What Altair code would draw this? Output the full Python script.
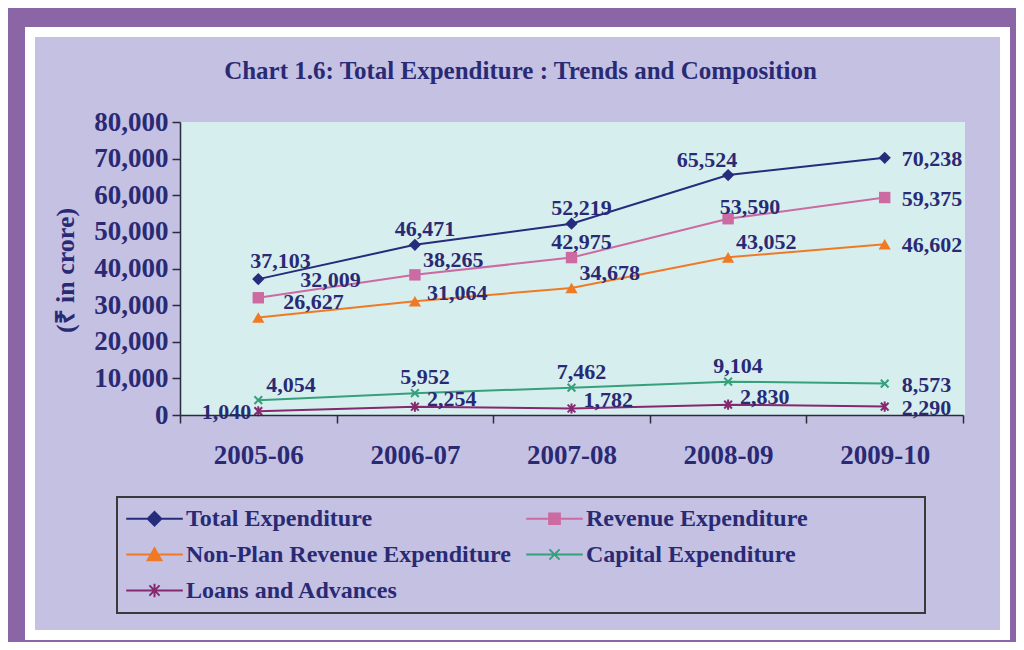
import altair as alt
import pandas as pd

# ---------------- data ----------------
years = ["2005-06", "2006-07", "2007-08", "2008-09", "2009-10"]
series = [
    "Total Expenditure",
    "Revenue Expenditure",
    "Non-Plan Revenue Expenditure",
    "Capital Expenditure",
    "Loans and Advances",
]
total_exp = [37103, 46471, 52219, 65524, 70238]
revenue_exp = [32009, 38265, 42975, 53590, 59375]
nonplan_exp = [26627, 31064, 34678, 43052, 46602]
capital_exp = [4054, 5952, 7462, 9104, 8573]
loans_adv = [1040, 2254, 1782, 2830, 2290]
y_ticks = [0, 10000, 20000, 30000, 40000, 50000, 60000, 70000, 80000]

# ---------------- styles ----------------
colors = ["#262c7c", "#cc6aa2", "#f07a24", "#35a07a", "#86286f"]
navy = "#2a2a74"
font = "Liberation Serif"

# label placement codes per point (style only)
placement = {
    "E": (17, 1, "left"),
    "W": (-7, 1, "right"),
    "NE": (8, -15, "left"),
    "ENE": (12, -8, "left"),
    "N": (10, -16, "center"),
    "NW": (-21, -15, "center"),
    "NNW": (-8, -18, "left"),
    "FAR": (42, -18, "left"),
    "NE2": (25, -15, "left"),
    "NNE": (22, -12, "center"),
}
label_codes = [
    ["NNW", "N", "N", "NW", "E"],
    ["FAR", "NE", "N", "NNE", "E"],
    ["NE2", "ENE", "NE", "NE", "E"],
    ["NE", "N", "N", "N", "E"],
    ["W", "ENE", "ENE", "ENE", "E"],
]

values = [total_exp, revenue_exp, nonplan_exp, capital_exp, loans_adv]
rows = []
for s, vals, codes in zip(series, values, label_codes):
    for yr, v, c in zip(years, vals, codes):
        rows.append({"series": s, "year": yr, "value": v,
                     "label": f"{v:,}", "pos": c})
df = pd.DataFrame(rows)

W, H = 783, 293

# marker shapes for the data points: (shape, filled, size)
markers = [
    ("diamond", True, 150),
    ("square", True, 130),
    ("triangle-up", True, 150),
    ("M-1,-1L1,1M-1,1L1,-1", False, 60),
    ("M-1,-1L1,1M-1,1L1,-1M0,-1.3L0,1.3", False, 60),
]
# legend symbols: line segment + marker (unit = half of sqrt(symbolSize))
legend_paths = [
    "M-2,0L2,0M0,-0.48L0.48,0L0,0.48L-0.48,0Z",
    "M-2,0L2,0M-0.38,-0.38L0.38,-0.38L0.38,0.38L-0.38,0.38Z",
    "M-2,0L2,0M0,-0.44L0.48,0.4L-0.48,0.4Z",
    "M-2,0L2,0M-0.36,-0.36L0.36,0.36M-0.36,0.36L0.36,-0.36",
    "M-2,0L2,0M-0.36,-0.36L0.36,0.36M-0.36,0.36L0.36,-0.36M0,-0.48L0,0.48",
]

axis_common = dict(
    tickSize=8, tickWidth=1.5, tickColor="#2b2b3b", domainColor="#2b2b3b",
    domainWidth=1.5, labelFont=font, labelFontWeight="bold",
    labelColor=navy, zindex=2,
)
x_enc = alt.X(
    "year:O",
    scale=alt.Scale(type="band", domain=years, paddingInner=0, paddingOuter=0),
    bandPosition=0.5,
    axis=alt.Axis(title=None, tickBand="extent", labelPadding=19, labelAngle=0,
                  labelFontSize=27, **axis_common),
)
y_enc = alt.Y(
    "value:Q",
    scale=alt.Scale(domain=[0, 80000], nice=False, zero=True),
    axis=alt.Axis(
        values=y_ticks, format=",d", grid=False, labelPadding=4,
        labelFontSize=27,
        title="(\u20b9 in crore)", titleFont=font, titleFontSize=26,
        titleFontWeight="bold", titleColor=navy, titleAngle=-90,
        titleX=-115, titleY=148, titleAlign="center", titleBaseline="middle",
        **axis_common,
    ),
)

leg = alt.Legend(
    title=None, orient="none", legendX=-41, legendY=381,
    columns=2, direction="horizontal", columnPadding=11, rowPadding=8,
    symbolSize=800, symbolStrokeWidth=2, symbolOpacity=1,
    labelFont=font, labelFontSize=24, labelFontWeight="bold",
    labelColor=navy, labelLimit=0, labelOffset=16,
)

# hidden layer that only carries the legend (covered by the frame rects)
legend_layer = alt.Chart(df).mark_point(strokeWidth=2).encode(
    x=x_enc, y=y_enc,
    fill=alt.Fill("series:N", scale=alt.Scale(domain=series, range=colors), legend=leg),
    stroke=alt.Stroke("series:N", scale=alt.Scale(domain=series, range=colors), legend=leg),
    shape=alt.Shape("series:N", scale=alt.Scale(domain=series, range=legend_paths), legend=leg),
)

one = pd.DataFrame({"k": [0]})
frame_white = alt.Chart(one).mark_rect(color="white").encode(
    x=alt.value(-155), x2=alt.value(830), y=alt.value(-95), y2=alt.value(518))
frame_lav = alt.Chart(one).mark_rect(color="#c4c1e3").encode(
    x=alt.value(-145), x2=alt.value(820), y=alt.value(-85), y2=alt.value(508))
plot_bg = alt.Chart(one).mark_rect(color="#d7eeef").encode(
    x=alt.value(0), x2=alt.value(W + 2), y=alt.value(0), y2=alt.value(H))
legend_box = alt.Chart(one).mark_rect(
    fillOpacity=0, stroke="#3a3a3a", strokeWidth=2).encode(
    x=alt.value(-63), x2=alt.value(745), y=alt.value(375), y2=alt.value(491))

color_scale = alt.Scale(domain=series, range=colors)

lines = alt.Chart(df).mark_line(strokeWidth=2).encode(
    x=x_enc, y=y_enc,
    color=alt.Color("series:N", scale=color_scale, legend=None),
)

point_layers = []
for s, (shp, filled, sz) in zip(series, markers):
    point_layers.append(
        alt.Chart(df).transform_filter(alt.datum.series == s).mark_point(
            shape=shp, filled=filled, size=sz, strokeWidth=2, opacity=1,
        ).encode(
            x=x_enc, y=y_enc,
            color=alt.Color("series:N", scale=color_scale, legend=None),
        )
    )

text_layers = []
for code, (dx, dy, align) in placement.items():
    text_layers.append(
        alt.Chart(df).transform_filter(alt.datum.pos == code).mark_text(
            align=align, baseline="middle", dx=dx, dy=dy, font=font,
            fontSize=22, fontWeight="bold", color=navy,
        ).encode(x=x_enc, y=y_enc, text="label:N")
    )

chart = alt.layer(
    legend_layer, frame_white, frame_lav, plot_bg, legend_box, lines,
    *point_layers, *text_layers
).properties(
    width=W, height=H,
    title=alt.TitleParams(
        "Chart 1.6: Total Expenditure : Trends and Composition",
        font=font, fontSize=25, fontWeight="bold", color=navy,
        anchor="middle", dx=-51, dy=95, offset=38,
    ),
    autosize=alt.AutoSizeParams(type="none"),
    padding={"left": 172, "top": 114, "right": 53, "bottom": 227},
    background="#8a66a6",
).configure_view(strokeWidth=0)

chart.save("out.html", embed_options={"renderer": "svg", "actions": False})
